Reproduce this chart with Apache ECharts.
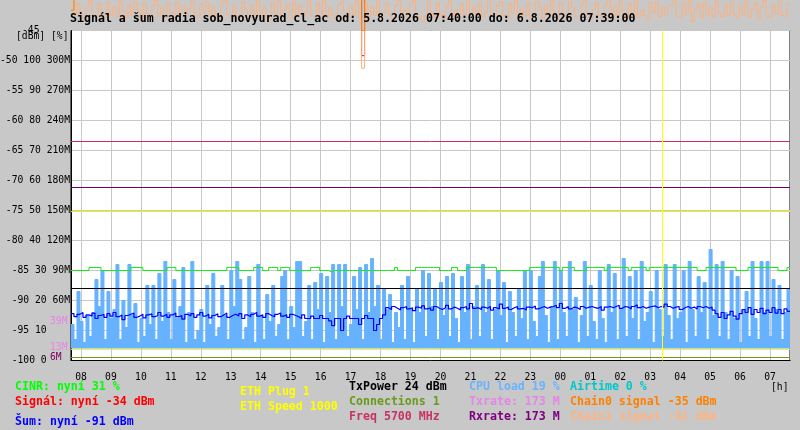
<!DOCTYPE html>
<html><head><meta charset="utf-8">
<script src="https://cdn.jsdelivr.net/npm/echarts@6/dist/echarts.min.js"></script>
<style>html,body{margin:0;padding:0;background:#c8c8c8;}#c{width:800px;height:430px;}</style>
</head><body><div id="c"></div>
<script>
// ---- time range ----
const startTime = new Date(2026, 7, 5, 7, 40).getTime();
const endTime = new Date(2026, 7, 6, 7, 40).getTime();
const eventTime = new Date(2026, 7, 6, 3, 24).getTime(); // yellow vertical event line
const stepMinutes = 6;

// ---- series values (one value per 6 minutes) ----
// CPU load [%]
const cpuLoad = [
 8,3,19,9,2,11,4,12,23,14,26,3,19,10,13,28,3,16,7,28,
 11,15,2,10,4,21,8,21,3,25,9,29,12,3,23,10,14,27,2,12,
 29,3,6,13,2,21,8,25,4,7,21,11,3,26,14,29,23,3,7,24,
 12,2,28,11,3,18,9,21,4,8,24,26,3,14,7,29,29,4,9,21,
 3,22,13,25,2,24,12,28,3,28,14,28,4,8,24,13,27,3,28,12,
 30,14,21,3,20,13,18,2,12,7,21,3,24,13,2,20,12,26,4,25,
 14,20,3,22,11,24,4,25,10,2,24,12,28,3,14,21,4,28,12,23,
 3,13,26,11,22,2,19,12,4,20,10,26,3,26,9,4,24,29,11,2,
 14,29,3,26,12,4,29,13,17,2,11,29,4,21,9,3,26,10,2,28,
 12,25,3,13,30,4,24,10,26,3,29,9,12,19,2,26,13,4,28,11,
 3,28,10,12,26,2,29,13,4,24,12,22,3,33,11,28,4,29,12,3,
 26,10,24,2,13,19,4,29,10,3,29,12,29,4,23,13,21,3,12,20
];
// Noise (Šum) [dBm]
const noise = [
 -92.2,-92.7,-92.3,-92.0,-92.8,-92.4,-92.6,-92.1,-93.0,-92.5,
 -92.3,-92.8,-92.2,-92.6,-92.0,-92.7,-92.4,-93.2,-92.5,-92.3,
 -92.1,-92.8,-92.6,-92.3,-92.9,-92.4,-92.2,-92.7,-92.5,-92.0,
 -92.6,-92.3,-92.8,-92.4,-92.1,-92.7,-92.5,-93.1,-92.3,-92.6,
 -92.2,-92.8,-92.4,-92.0,-92.6,-92.3,-92.9,-92.5,-92.2,-92.7,
 -92.4,-92.1,-92.8,-92.5,-92.3,-92.6,-92.2,-93.0,-92.4,-92.7,
 -92.3,-92.0,-92.6,-92.4,-92.8,-92.2,-92.5,-92.7,-92.3,-92.1,
 -92.6,-92.4,-92.8,-92.3,-92.5,-92.7,
 -93.0,-92.4,-93.0,-93.0,-92.6,-93.0,-93.0,-92.5,-93.0,-93.0,
 -93.4,-94.2,-93.0,-93.0,-95.0,-93.0,-92.6,-93.0,-93.0,-93.0,
 -94.0,-93.0,-92.5,-93.0,-93.0,-95.0,-94.0,-93.0,-92.4,
 -91.2,-91.5,-91.0,-91.3,-91.6,-91.2,-91.0,-91.4,-91.2,-91.7,
 -91.1,-91.3,-90.9,-91.4,-91.2,-91.6,-91.0,-91.3,-91.5,-91.2,
 -90.8,-91.4,-91.1,-91.3,-91.6,-91.2,-91.0,-91.4,-90.5,-91.3,
 -91.2,-91.5,-91.1,-91.3,-91.0,-91.6,-91.2,-91.4,-90.6,-91.3,
 -91.1,-91.5,-91.2,-91.0,-91.4,-91.3,-91.6,-91.1,-91.2,-90.9,
 -91.4,-91.2,-91.0,-91.3,-91.1,
 -91.0,-90.8,-91.2,-90.5,-91.3,-91.0,-91.4,-91.1,-91.2,-91.5,
 -91.0,-91.3,-91.1,-91.0,-91.2,-91.3,-91.0,-91.6,-91.1,-91.0,
 -91.2,-91.0,-90.8,-91.3,-91.0,-91.1,-91.4,-91.0,-90.7,-91.2,
 -91.0,-91.3,-91.1,-91.0,-90.9,-91.2,-91.0,-91.1,-90.6,-91.0,
 -91.3,-91.1,-91.0,-91.5,-91.2,-91.0,-91.3,-91.1,-91.4,-91.0,
 -91.2,-91.0,-91.3,-91.1,
 -91.6,-92.2,-92.8,-92.0,-93.0,-92.4,-91.8,-92.6,-93.1,-92.2,
 -91.5,-92.0,-91.2,-92.3,-91.5,-92.0,-91.3,-92.2,-91.6,-92.0,
 -91.2,-92.1,-91.5,-92.2,-91.4,-91.8
];
// CINR [%]
const cinr = [
 30,30,30,30,30,30,31,31,31,31,30,30,30,30,30,30,30,30,30,30,
 31,31,31,31,30,30,30,30,30,30,30,30,31,31,31,30,30,30,30,30,
 30,30,30,30,30,30,30,30,30,30,30,30,31,31,31,31,30,30,30,30,
 30,31,31,31,30,30,31,31,31,30,31,31,31,30,30,30,30,30,30,30,
 31,31,31,30,30,30,29.5,30,30,30,30,30,30,30,30,30,30,30,30,30,
 30,30,30,30,30,30,30,30,31,30,30,30,30,30,30,31,31,31,31,31,
 31,31,31,30,30,30,30,31,31,30,30,30,31,31,31,31,31,31,31,31,
 31,31,30,30,30,30,30,30,30,30,30,30,30,31,31,31,31,31,31,31,
 31,31,31,30,31,31,31,31,30,30,30,30,31,31,31,31,31,31,30,31,
 31,31,31,31,31,31,30,31,31,31,31,31,30,31,31,31,31,31,31,31,
 31,31,31,31,31,31,31,31,31,30,30,30,31,31,31,31,31,31,31,31,
 31,31,30,30,30,30,31,31,31,31,31,31,31,31,31,31,30,30,30,31
];
// Signal [dBm]
const signal = [
 -34,-34,-33,-34,-35,-34,-34,-33,-34,-34,-35,-34,-33,-34,-34,-34,-35,-34,-33,-34,
 -34,-33,-34,-34,-35,-34,-34,-34,-33,-34,-34,-35,-34,-34,-33,-34,-34,-34,-35,-34,
 -33,-34,-34,-35,-34,-34,-33,-34,-34,-34,-35,-34,-34,-33,-34,-34,-34,-35,-34,-34,
 -34,-34,-33,-34,-34,-35,-34,-34,-34,-33,-34,-34,-35,-34,-34,-34,-33,-34,-34,-34,
 -35,-34,-34,-33,-34,-34,-34,-35,-34,-34,-33,-34,-34,-34,-35,-34,-34,-49.2,-34,-34,
 -34,-33,-34,-34,-35,-34,-34,-34,-33,-34,-34,-35,-34,-34,-34,-33,-34,-34,-34,-35,
 -34,-34,-33,-34,-34,-34,-35,-34,-34,-33,-34,-34,-34,-35,-34,-34,-33,-34,-34,-34,
 -35,-34,-34,-33,-34,-34,-34,-35,-34,-34,-33,-34,-34,-34,-35,-34,-34,-33,-34,-34,
 -34,-35,-34,-34,-33,-34,-34,-34,-35,-34,-34,-33,-34,-34,-34,-35,-34,-34,-33,-34,
 -34,-34,-35,-34,-34,-33,-34,-34,-34,-35,-34,-34,-33,-34,-34,-34,-35,-34,-34,-33,
 -34,-34,-34,-35,-34,-34,-33,-34,-34,-34,-35,-34,-34,-33,-34,-34,-34,-35,-34,-34,
 -33,-34,-34,-34,-35,-34,-34,-33,-34,-34,-34,-35,-34,-34,-33,-34,-34,-34,-35,-34
];
// Chain0 signal [dBm]
const chain0 = [
 -41.6,-35,-36,-35,-34,-36,-35,-37,-35,-34,-36,-35,-35,-37,-34,-36,-35,-35,-36,-34,
 -35,-36,-35,-34,-37,-35,-36,-35,-34,-36,-35,-35,-37,-34,-36,-35,-36,-35,-34,-35,
 -36,-35,-37,-34,-35,-36,-35,-34,-36,-35,-37,-35,-34,-36,-35,-35,-36,-34,-37,-35,
 -35,-36,-34,-35,-37,-35,-36,-35,-34,-36,-35,-37,-35,-34,-36,-35,-35,-36,-34,-35,
 -36,-35,-34,-37,-35,-36,-35,-34,-35,-36,-35,-37,-34,-35,-36,-35,-35,-45.0,-36,-34,
 -35,-36,-35,-34,-37,-35,-36,-35,-34,-36,-35,-35,-37,-34,-36,-35,-36,-35,-34,-35,
 -36,-35,-37,-34,-35,-36,-35,-34,-36,-35,-37,-35,-34,-36,-35,-35,-36,-34,-37,-35,
 -35,-36,-34,-35,-37,-35,-36,-35,-34,-36,-35,-37,-35,-34,-36,-35,-35,-36,-34,-35,
 -36,-35,-34,-37,-35,-36,-35,-34,-35,-36,-35,-37,-34,-35,-36,-35,-35,-36,-36,-34,
 -35,-36,-35,-34,-37,-35,-36,-35,-34,-36,-35,-35,-37,-34,-36,-35,-36,-35,-34,-35,
 -36,-35,-37,-34,-35,-36,-35,-34,-36,-35,-37,-35,-34,-36,-35,-35,-36,-34,-37,-35,
 -35,-36,-34,-35,-37,-35,-36,-35,-34,-36,-35,-37,-35,-34,-36,-35,-35,-36,-34,-35
];
// Chain1 signal [dBm]
const chain1 = [
 -40.2,-42.6,-40.5,-42.1,-43.0,-40.9,-40.0,-42.4,-42.8,-40.6,-41.9,-42.9,-40.3,-42.5,-41.0,-42.7,-40.1,-41.8,-42.9,-40.7,
 -42.4,-40.2,-41.5,-42.8,-40.4,-42.2,-43.0,-40.8,-40.0,-42.6,-41.2,-42.9,-40.5,-42.0,-42.8,-40.3,-42.3,-40.9,-42.7,-41.4,
 -40.1,-42.5,-42.9,-40.6,-42.1,-40.2,-42.8,-41.0,-42.4,-43.0,-40.4,-40.0,-42.3,-42.7,-40.8,-42.5,-42.9,-40.2,-41.6,-42.8,
 -40.7,-42.4,-40.1,-42.9,-41.1,-42.6,-43.0,-40.4,-42.2,-40.1,-42.8,-41.5,-40.6,-42.9,-40.2,-42.4,-40.9,-42.7,-41.8,-40.1,
 -42.6,-42.9,-40.4,-42.3,-40.0,-42.8,-41.2,-42.5,-43.0,-40.7,-40.2,-42.1,-42.8,-40.9,-42.4,-40.1,-42.9,-51.3,-40.4,-42.7,
 -41.0,-42.5,-40.2,-42.9,-42.0,-40.5,-42.4,-43.0,-40.8,-40.1,-42.6,-41.6,-42.8,-40.6,-40.0,-42.3,-42.9,-43.5,-42.5,-40.2,
 -42.1,-42.8,-40.4,-42.4,-43.0,-40.8,-40.1,-42.6,-41.6,-42.8,-40.6,-42.3,-40.2,-42.9,-41.0,-42.5,-40.4,-42.8,-42.0,-40.1,
 -42.4,-42.7,-40.8,-40.2,-42.5,-43.0,-40.6,-42.1,-40.0,-42.9,-41.4,-42.6,-40.4,-42.8,-42.2,-40.2,-41.1,-42.9,-40.8,-42.4,
 -40.0,-42.5,-42.8,-40.4,-42.1,-43.0,-40.2,-41.2,-42.6,-42.8,-40.7,-40.0,-42.3,-42.9,-41.5,-40.4,-42.5,-43.0,-40.8,-40.1,
 -42.6,-41.0,-42.8,-40.1,-42.3,-42.9,-40.6,-42.4,-40.0,-42.8,-41.5,-42.5,-43.0,-40.4,-42.1,-40.2,-42.7,-41.0,-42.4,-40.9,
 -40.8,-40.1,-42.6,-42.9,-40.4,-42.3,-40.0,-43.5,-41.4,-40.6,-42.9,-40.2,-42.4,-41.0,-42.8,-40.1,-42.1,-42.7,-40.8,-42.5,
 -40.2,-42.3,-42.9,-40.6,-42.4,-40.1,-42.7,-41.4,-40.4,-43.0,-41.1,-40.0,-42.6,-42.8,-40.8,-42.3,-40.2,-42.5,-42.7,-40.6
];

// ---- constant levels ----
const freqLevelPct = 73;       // Freq 5700 MHz line (percent scale)
const txRate = 173;            // Mbit/s
const rxRate = 173;            // Mbit/s
const ethSpeedLevelPct = 49.67;// ETH Speed line (percent scale)
const txPowerPct = 24;         // TxPower 24
const ethPlugLevelPct = 3.67;  // ETH plug line (percent scale)
const connections = 1;         // percent scale
const rateLabels = ['39M', '13M', '6M'];
const rateLabelValues = [39, 13, 6];

// ---- axis ticks ----
const dbmMin = -100, dbmMax = -45, dbmStep = 5;

const title = 'Signál a šum radia sob_novyurad_cl_ac od: 5.8.2026 07:40:00 do: 6.8.2026 07:39:00';

const mono = '"DejaVu Sans Mono", "Liberation Mono", monospace';
const times = cpuLoad.map((_, i) => startTime + i * stepMinutes * 60000);
const pairs = arr => arr.map((v, i) => [times[i], v]).concat([[endTime, arr[arr.length - 1]]]);
const flat = v => [[startTime, v], [endTime, v]];

function yLabel(v) {
  if (v === -45) return '';
  const pct = (v + 100) * 2;
  const mb = (v + 100) * 6;
  if (v === -95 || v === -100) return v + ' ' + pct + '    ';
  return v + ' ' + pct + ' ' + mb + 'M';
}

function lineSeries(name, data, color, yAxisIndex, extra) {
  return Object.assign({
    name, type: 'line', data, yAxisIndex, symbol: 'none', silent: true,
    lineStyle: { color, width: 1 }, itemStyle: { color }
  }, extra || {});
}

const chart = echarts.init(document.getElementById('c'), null, { renderer: 'canvas' });

const legend = [
  ['CINR: nyní 31 %', '#00ff00', 15, 387],
  ['Signál: nyní -34 dBm', '#ff0000', 15, 402],
  ['Šum: nyní -91 dBm', '#0000ff', 15, 422],
  ['ETH Plug 1', '#ffff00', 240, 392],
  ['ETH Speed 1000', '#ffff00', 240, 407],
  ['TxPower 24 dBm', '#000000', 349, 387],
  ['Connections 1', '#6a9a1a', 349, 402],
  ['Freq 5700 MHz', '#c83262', 349, 417],
  ['CPU load 19 %', '#6ab4ff', 469, 387],
  ['Txrate: 173 M', '#e585e5', 469, 402],
  ['Rxrate: 173 M', '#800080', 469, 417],
  ['Airtime 0 %', '#00c8c8', 570, 387],
  ['Chain0 signal -35 dBm', '#ff8000', 570, 402],
  ['Chain1 signal -41 dBm', '#ffb482', 570, 417]
];

const graphics = legend.map(([t, c, x, y]) => ({
  type: 'text', x, y, z: 100, silent: true,
  style: { text: t, fill: c, font: 'bold 11.6px ' + mono, verticalAlign: 'middle', align: 'left' }
}));
graphics.push({ type: 'text', x: 70, y: 19, z: 100, silent: true,
  style: { text: title, fill: '#000', font: 'bold 11.6px ' + mono, verticalAlign: 'middle', align: 'left' } });
graphics.push({ type: 'text', x: 22, y: 30, z: 100, silent: true,
  style: { text: '-45', fill: '#000', font: '9.7px ' + mono, verticalAlign: 'middle', align: 'left' } });
graphics.push({ type: 'text', x: 16, y: 36, z: 100, silent: true,
  style: { text: '[dBm] [%]', fill: '#000', font: '9.7px ' + mono, verticalAlign: 'middle', align: 'left' } });
graphics.push({ type: 'text', x: 771, y: 387, z: 100, silent: true,
  style: { text: '[h]', fill: '#000', font: '9.7px ' + mono, verticalAlign: 'middle', align: 'left' } });

const option = {
  animation: false,
  backgroundColor: '#c8c8c8',
  grid: { left: 71, right: 10, top: 30.5, bottom: 69.5, show: true, backgroundColor: '#ffffff',
          borderColor: '#000000', borderWidth: 1, containLabel: false, outerBoundsMode: 'none' },
  xAxis: {
    type: 'time', min: startTime, max: endTime,
    minInterval: 3600000, maxInterval: 3600000,
    axisLine: { show: true, lineStyle: { color: '#000' } },
    axisTick: { show: false },
    splitLine: { show: true, lineStyle: { color: '#c8c8c8', width: 1 } },
    minorSplitLine: { show: false },
    axisLabel: {
      color: '#000', fontFamily: mono, fontSize: 9.7, margin: 12,
      showMinLabel: false, showMaxLabel: false,
      formatter: v => String(new Date(v).getHours()).padStart(2, '0')
    }
  },
  yAxis: [
    { type: 'value', min: dbmMin, max: dbmMax, interval: dbmStep,
      axisLine: { show: true, lineStyle: { color: '#000' } }, axisTick: { show: false },
      splitLine: { show: true, lineStyle: { color: '#c8c8c8', width: 1 } },
      axisLabel: { color: '#000', fontFamily: mono, fontSize: 9.7, margin: 1, align: 'right', formatter: yLabel } },
    { type: 'value', min: 0, max: 110, show: false, splitLine: { show: false } },
    { type: 'value', min: 0, max: 330, show: false, splitLine: { show: false } },
    { type: 'value', min: -4, max: 106, show: false, splitLine: { show: false } }
  ],
  graphic: graphics,
  series: [
    lineSeries('CPU load', pairs(cpuLoad), '#66b2ff', 3,
      { step: 'end', areaStyle: { color: '#66b2ff', opacity: 1 } }),
    lineSeries('Freq', flat(freqLevelPct), '#d02a64', 1),
    lineSeries('Txrate', flat(txRate), '#e585e5', 2),
    lineSeries('Rxrate', flat(rxRate), '#700070', 2),
    lineSeries('ETH Speed', flat(ethSpeedLevelPct), '#f2f200', 1),
    lineSeries('TxPower', flat(txPowerPct), '#000000', 1),
    lineSeries('ETH Plug', flat(ethPlugLevelPct), '#f2f030', 1),
    lineSeries('Connections', flat(connections), '#6a9a1a', 1),
    lineSeries('Šum', pairs(noise), '#0000ff', 0, { step: 'end', lineStyle: { color: '#0000ff', width: 1.2 } }),
    lineSeries('CINR', pairs(cinr), '#11ee11', 1, { step: 'end' }),
    lineSeries('Signál', pairs(signal), '#ff0000', 0, { step: 'end', clip: false }),
    lineSeries('Chain1', pairs(chain1), '#ffb07a', 0, { step: 'end', clip: false, lineStyle: { color: '#ffb07a', width: 1 } }),
    lineSeries('Chain0', pairs(chain0), '#ff8000', 0, { step: 'end', clip: false,
      markLine: { silent: true, symbol: 'none', label: { show: false },
        lineStyle: { color: '#ffff00', width: 1, type: 'solid' },
        data: [{ xAxis: eventTime }] } })
  ]
};
chart.setOption(option);

// rate value labels at the Mbit/s scale
const extra = rateLabels.map((t, i) => {
  const y = chart.convertToPixel({ yAxisIndex: 2 }, rateLabelValues[i]);
  return { type: 'text', x: 50, y: y + (i === 2 ? 2.5 : 0), z: 100, silent: true,
    style: { text: t, fill: i === 2 ? '#800060' : '#e585e5', font: '9.7px ' + mono, verticalAlign: 'middle', align: 'left' } };
});
chart.setOption({ graphic: graphics.concat(extra) });
</script>
</body></html>
